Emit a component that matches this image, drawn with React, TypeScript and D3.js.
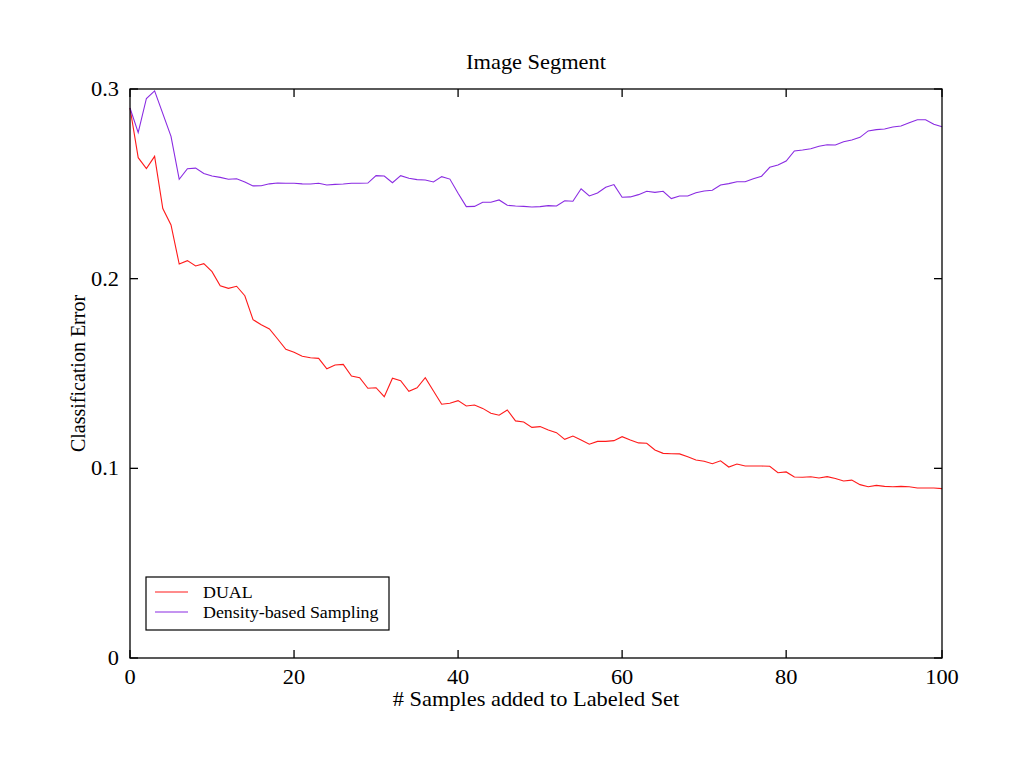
import React from 'react';
import * as d3 from 'd3';

// classification error after each added sample
const dual = [
  0.290, 0.2638, 0.258, 0.2645, 0.237, 0.2283, 0.2077, 0.2095, 0.2067, 0.2079,
  0.2037, 0.1963, 0.1949, 0.1960, 0.1910, 0.1784, 0.1757, 0.1735, 0.1682, 0.1628,
  0.1612, 0.1591, 0.1583, 0.1580, 0.1525, 0.1545, 0.1548, 0.1487, 0.1478, 0.1422,
  0.1425, 0.1378, 0.1475, 0.1462, 0.1406, 0.1425, 0.1478, 0.1408, 0.1338, 0.1343,
  0.1357, 0.1329, 0.1334, 0.1316, 0.1290, 0.1280, 0.1308, 0.1250, 0.1244, 0.1216,
  0.1220, 0.1202, 0.1188, 0.1153, 0.1170, 0.1149, 0.1127, 0.1142, 0.1142, 0.1146,
  0.1167, 0.1149, 0.1134, 0.1132, 0.1097, 0.1079, 0.1077, 0.1076, 0.1061, 0.1044,
  0.1037, 0.1024, 0.1040, 0.1007, 0.1023, 0.1012, 0.1012, 0.1012, 0.1011, 0.0977,
  0.0981, 0.0954, 0.0953, 0.0956, 0.0949, 0.0956, 0.0946, 0.0933, 0.0938, 0.0914,
  0.0903, 0.0910, 0.0905, 0.0903, 0.0905, 0.0903, 0.0896, 0.0896, 0.0896, 0.0893,
];

const density = [
  0.290, 0.277, 0.295, 0.299, 0.287, 0.275, 0.2524, 0.258, 0.2583, 0.2555,
  0.2541, 0.2534, 0.2524, 0.2527, 0.251, 0.2489, 0.249, 0.250, 0.2504, 0.2503,
  0.2503, 0.250, 0.2499, 0.2503, 0.2494, 0.2497, 0.2499, 0.2503, 0.2503, 0.2504,
  0.2543, 0.2541, 0.2506, 0.2543, 0.2529, 0.2522, 0.252, 0.251, 0.2538, 0.2525,
  0.245, 0.238, 0.2381, 0.2403, 0.2403, 0.2415, 0.2387, 0.2383, 0.2381, 0.2378,
  0.238, 0.2385, 0.2383, 0.2411, 0.2408, 0.2474, 0.2436, 0.2452, 0.2482, 0.2496,
  0.2429, 0.2431, 0.2443, 0.2461, 0.2455, 0.2461, 0.2422, 0.2436, 0.2436, 0.2453,
  0.2462, 0.2466, 0.2494, 0.2501, 0.2511, 0.2511, 0.2527, 0.254, 0.2587, 0.2599,
  0.262, 0.2673, 0.2678, 0.2685, 0.2698, 0.2706, 0.2705, 0.2722, 0.2731, 0.2745,
  0.2779, 0.2786, 0.2789, 0.28, 0.2805, 0.2822, 0.2838, 0.2838, 0.2814, 0.2801,
];

const xTickValues = [0, 20, 40, 60, 80, 99];
const xTickLabels = ['0', '20', '40', '60', '80', '100'];
const yTickValues = [0, 0.1, 0.2, 0.3];
const yTickLabels = ['0', '0.1', '0.2', '0.3'];

const seriesNames = ['DUAL', 'Density-based Sampling'];
const seriesColors = ['#ff1a1a', '#8a2be2'];

const FONT = '"Liberation Serif", "Times New Roman", serif';
const SX = 1.12; // text is a little wide in this figure

const left = 130;
const right = 942;
const top = 89;
const bottom = 658;
const tick = 8;

// horizontal text with the slight width stretch
const Txt: React.FC<{ x: number; y: number; size: number; anchor?: string; children: React.ReactNode }> = ({
  x, y, size, anchor = 'middle', children,
}) => (
  <text
    transform={`translate(${x},${y}) scale(${SX},1)`}
    fontFamily={FONT}
    fontSize={size}
    textAnchor={anchor}
    fill="#000"
  >
    {children}
  </text>
);

export default function App() {
  const x = d3.scaleLinear().domain([0, dual.length - 1]).range([left, right]);
  const y = d3.scaleLinear().domain([0, 0.3]).range([bottom, top]);

  const line = d3
    .line<number>()
    .x((_, i) => x(i))
    .y((d) => y(d));

  const series = [dual, density];

  return (
    <svg
      width={1024}
      height={768}
      style={{ position: 'absolute', left: 0, top: 0, background: '#fff' }}
    >
      <rect width={1024} height={768} fill="#fff" />

      <Txt x={(left + right) / 2} y={69} size={20}>Image Segment</Txt>

      {series.map((s, k) => (
        <path key={k} d={line(s) || ''} fill="none" stroke={seriesColors[k]} strokeWidth={1.1} />
      ))}

      <rect x={left} y={top} width={right - left} height={bottom - top} fill="none" stroke="#000" strokeWidth={1.3} />

      {xTickValues.map((v, i) => (
        <g key={'x' + v}>
          <line x1={x(v)} x2={x(v)} y1={bottom} y2={bottom - tick} stroke="#000" strokeWidth={1.3} />
          <line x1={x(v)} x2={x(v)} y1={top} y2={top + tick} stroke="#000" strokeWidth={1.3} />
          <Txt x={x(v)} y={684} size={20}>{xTickLabels[i]}</Txt>
        </g>
      ))}

      {yTickValues.map((v, i) => (
        <g key={'y' + v}>
          <line x1={left} x2={left + tick} y1={y(v)} y2={y(v)} stroke="#000" strokeWidth={1.3} />
          <line x1={right} x2={right - tick} y1={y(v)} y2={y(v)} stroke="#000" strokeWidth={1.3} />
          <Txt x={119} y={y(v) + 7} size={20} anchor="end">{yTickLabels[i]}</Txt>
        </g>
      ))}

      <Txt x={(left + right) / 2} y={706} size={20}># Samples added to Labeled Set</Txt>
      <text
        transform={`translate(85,${(top + bottom) / 2}) rotate(-90)`}
        fontFamily={FONT}
        fontSize={20}
        textAnchor="middle"
        fill="#000"
      >
        Classification Error
      </text>

      <g>
        <rect x={146} y={577} width={243} height={53} fill="#fff" stroke="#000" strokeWidth={1.2} />
        {seriesNames.map((name, k) => (
          <g key={name}>
            <line x1={155} x2={188} y1={592 + k * 20} y2={592 + k * 20} stroke={seriesColors[k]} strokeWidth={1.1} />
            <Txt x={203} y={597.5 + k * 20} size={16} anchor="start">{name}</Txt>
          </g>
        ))}
      </g>
    </svg>
  );
}
